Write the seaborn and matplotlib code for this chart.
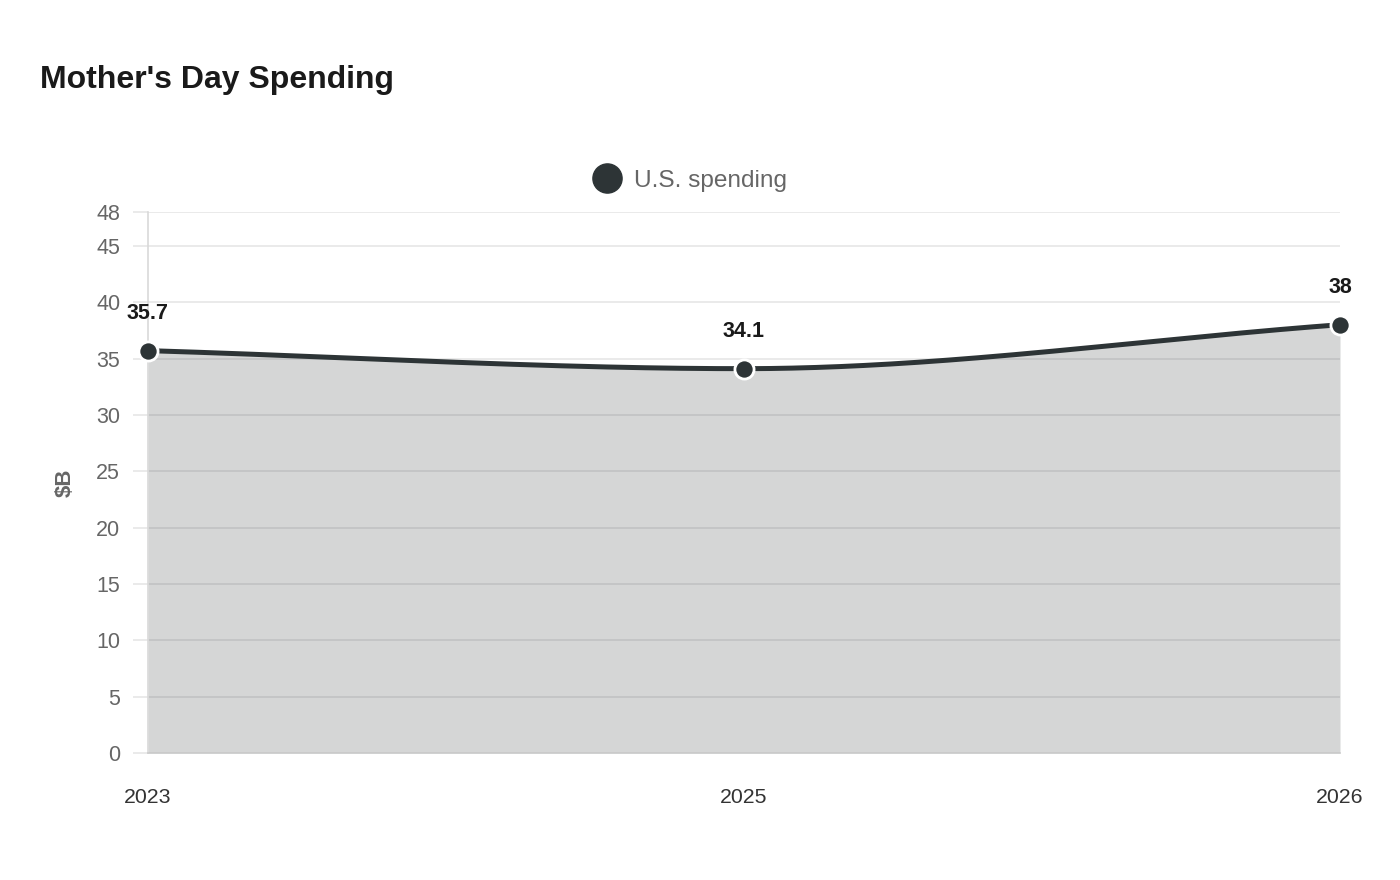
import numpy as np
import pandas as pd
import matplotlib
matplotlib.use("Agg")
import matplotlib.pyplot as plt
import seaborn as sns
from matplotlib.lines import Line2D

# ---- data ----
years = ["2023", "2025", "2026"]
spending = [35.7, 34.1, 38.0]
series_name = "U.S. spending"
y_ticks = [0, 5, 10, 15, 20, 25, 30, 35, 40, 45, 48]

sns.set_theme(style="white")
plt.rcParams["font.family"] = ["Liberation Sans", "DejaVu Sans"]

LINE = "#2d3436"

def monotone_curve(xs, ys, n=200):
    xs = np.asarray(xs, float); ys = np.asarray(ys, float)
    d = np.diff(ys) / np.diff(xs)
    m = np.zeros_like(ys)
    m[0] = d[0]; m[-1] = d[-1]
    for i in range(1, len(ys) - 1):
        m[i] = 0.0 if d[i - 1] * d[i] <= 0 else (d[i - 1] + d[i]) / 2
    for i in range(len(d)):
        if d[i] == 0:
            m[i] = m[i + 1] = 0
            continue
        a, b = m[i] / d[i], m[i + 1] / d[i]
        s = a * a + b * b
        if s > 9:
            t = 3 / np.sqrt(s)
            m[i] = t * a * d[i]; m[i + 1] = t * b * d[i]
    X, Y = [], []
    for i in range(len(d)):
        h = xs[i + 1] - xs[i]
        t = np.linspace(0, 1, n)
        h00 = 2*t**3 - 3*t**2 + 1; h10 = t**3 - 2*t**2 + t
        h01 = -2*t**3 + 3*t**2; h11 = t**3 - t**2
        X.append(xs[i] + t * h)
        Y.append(h00*ys[i] + h10*h*m[i] + h01*ys[i+1] + h11*h*m[i+1])
    return np.concatenate(X), np.concatenate(Y)

xpos = np.arange(len(years))
cx, cy = monotone_curve(xpos, spending)
df_pts = pd.DataFrame({"x": xpos, "y": spending})
df_curve = pd.DataFrame({"x": cx, "y": cy})

fig = plt.figure(figsize=(14, 8.8), dpi=100)
ax = fig.add_axes([148/1400, 1 - 753/880, (1340-148)/1400, (753-212)/880])

ax.set_ylim(0, 48)
ax.set_xlim(0, len(years) - 1)
ax.set_yticks(y_ticks)
ax.grid(axis="y", color="#e6e6e6", linewidth=1.2, zorder=0)
ax.set_axisbelow(True)

ax.fill_between(cx, 0, cy, color=LINE, alpha=0.2, linewidth=0, zorder=1)
sns.lineplot(data=df_curve, x="x", y="y", ax=ax, color=LINE, linewidth=3.6,
             zorder=3, sort=False)
sns.scatterplot(data=df_pts, x="x", y="y", ax=ax, color=LINE, s=190,
                edgecolor="white", linewidth=2, zorder=4, clip_on=False)

for x, v in zip(xpos, spending):
    lab = f"{v:g}"
    ax.annotate(lab, (x, v), xytext=(0, 27), textcoords="offset points",
                ha="center", va="center", fontsize=15.5, fontweight="bold",
                color="#1a1a1a", zorder=5)

ax.set_xticks(xpos)
ax.set_xticklabels(years)
ax.tick_params(axis="x", length=0, pad=25, labelsize=15.3, labelcolor="#333333")
ax.tick_params(axis="y", length=11, width=1.2, color="#e6e6e6", pad=9,
               labelsize=15.5, labelcolor="#666666", left=True)
ax.set_xlabel("")
ax.set_ylabel("$B", fontsize=16, fontweight="bold", color="#666666")
ax.yaxis.set_label_coords((76 - 148) / 1192, 0.5)

for s in ["top", "right"]:
    ax.spines[s].set_visible(False)
ax.spines["left"].set_color("#d9d9d9")
ax.spines["left"].set_linewidth(1.2)
ax.spines["bottom"].set_color("#cccccc")
ax.spines["bottom"].set_linewidth(1.2)

fig.text(40/1400, 1 - 80/880, "Mother's Day Spending", fontsize=23,
         fontweight="bold", color="#1a1a1a", va="center", ha="left")

handle = Line2D([], [], marker="o", linestyle="none", markersize=21,
                markerfacecolor=LINE, markeredgecolor=LINE)
fig.legend([handle], [series_name], loc="center",
           bbox_to_anchor=(690/1400, 1 - 181/880), frameon=False,
           fontsize=17.6, labelcolor="#666666", handletextpad=0.5,
           handlelength=1.2, borderaxespad=0)

fig.savefig("out.png", dpi=100, facecolor="white")
